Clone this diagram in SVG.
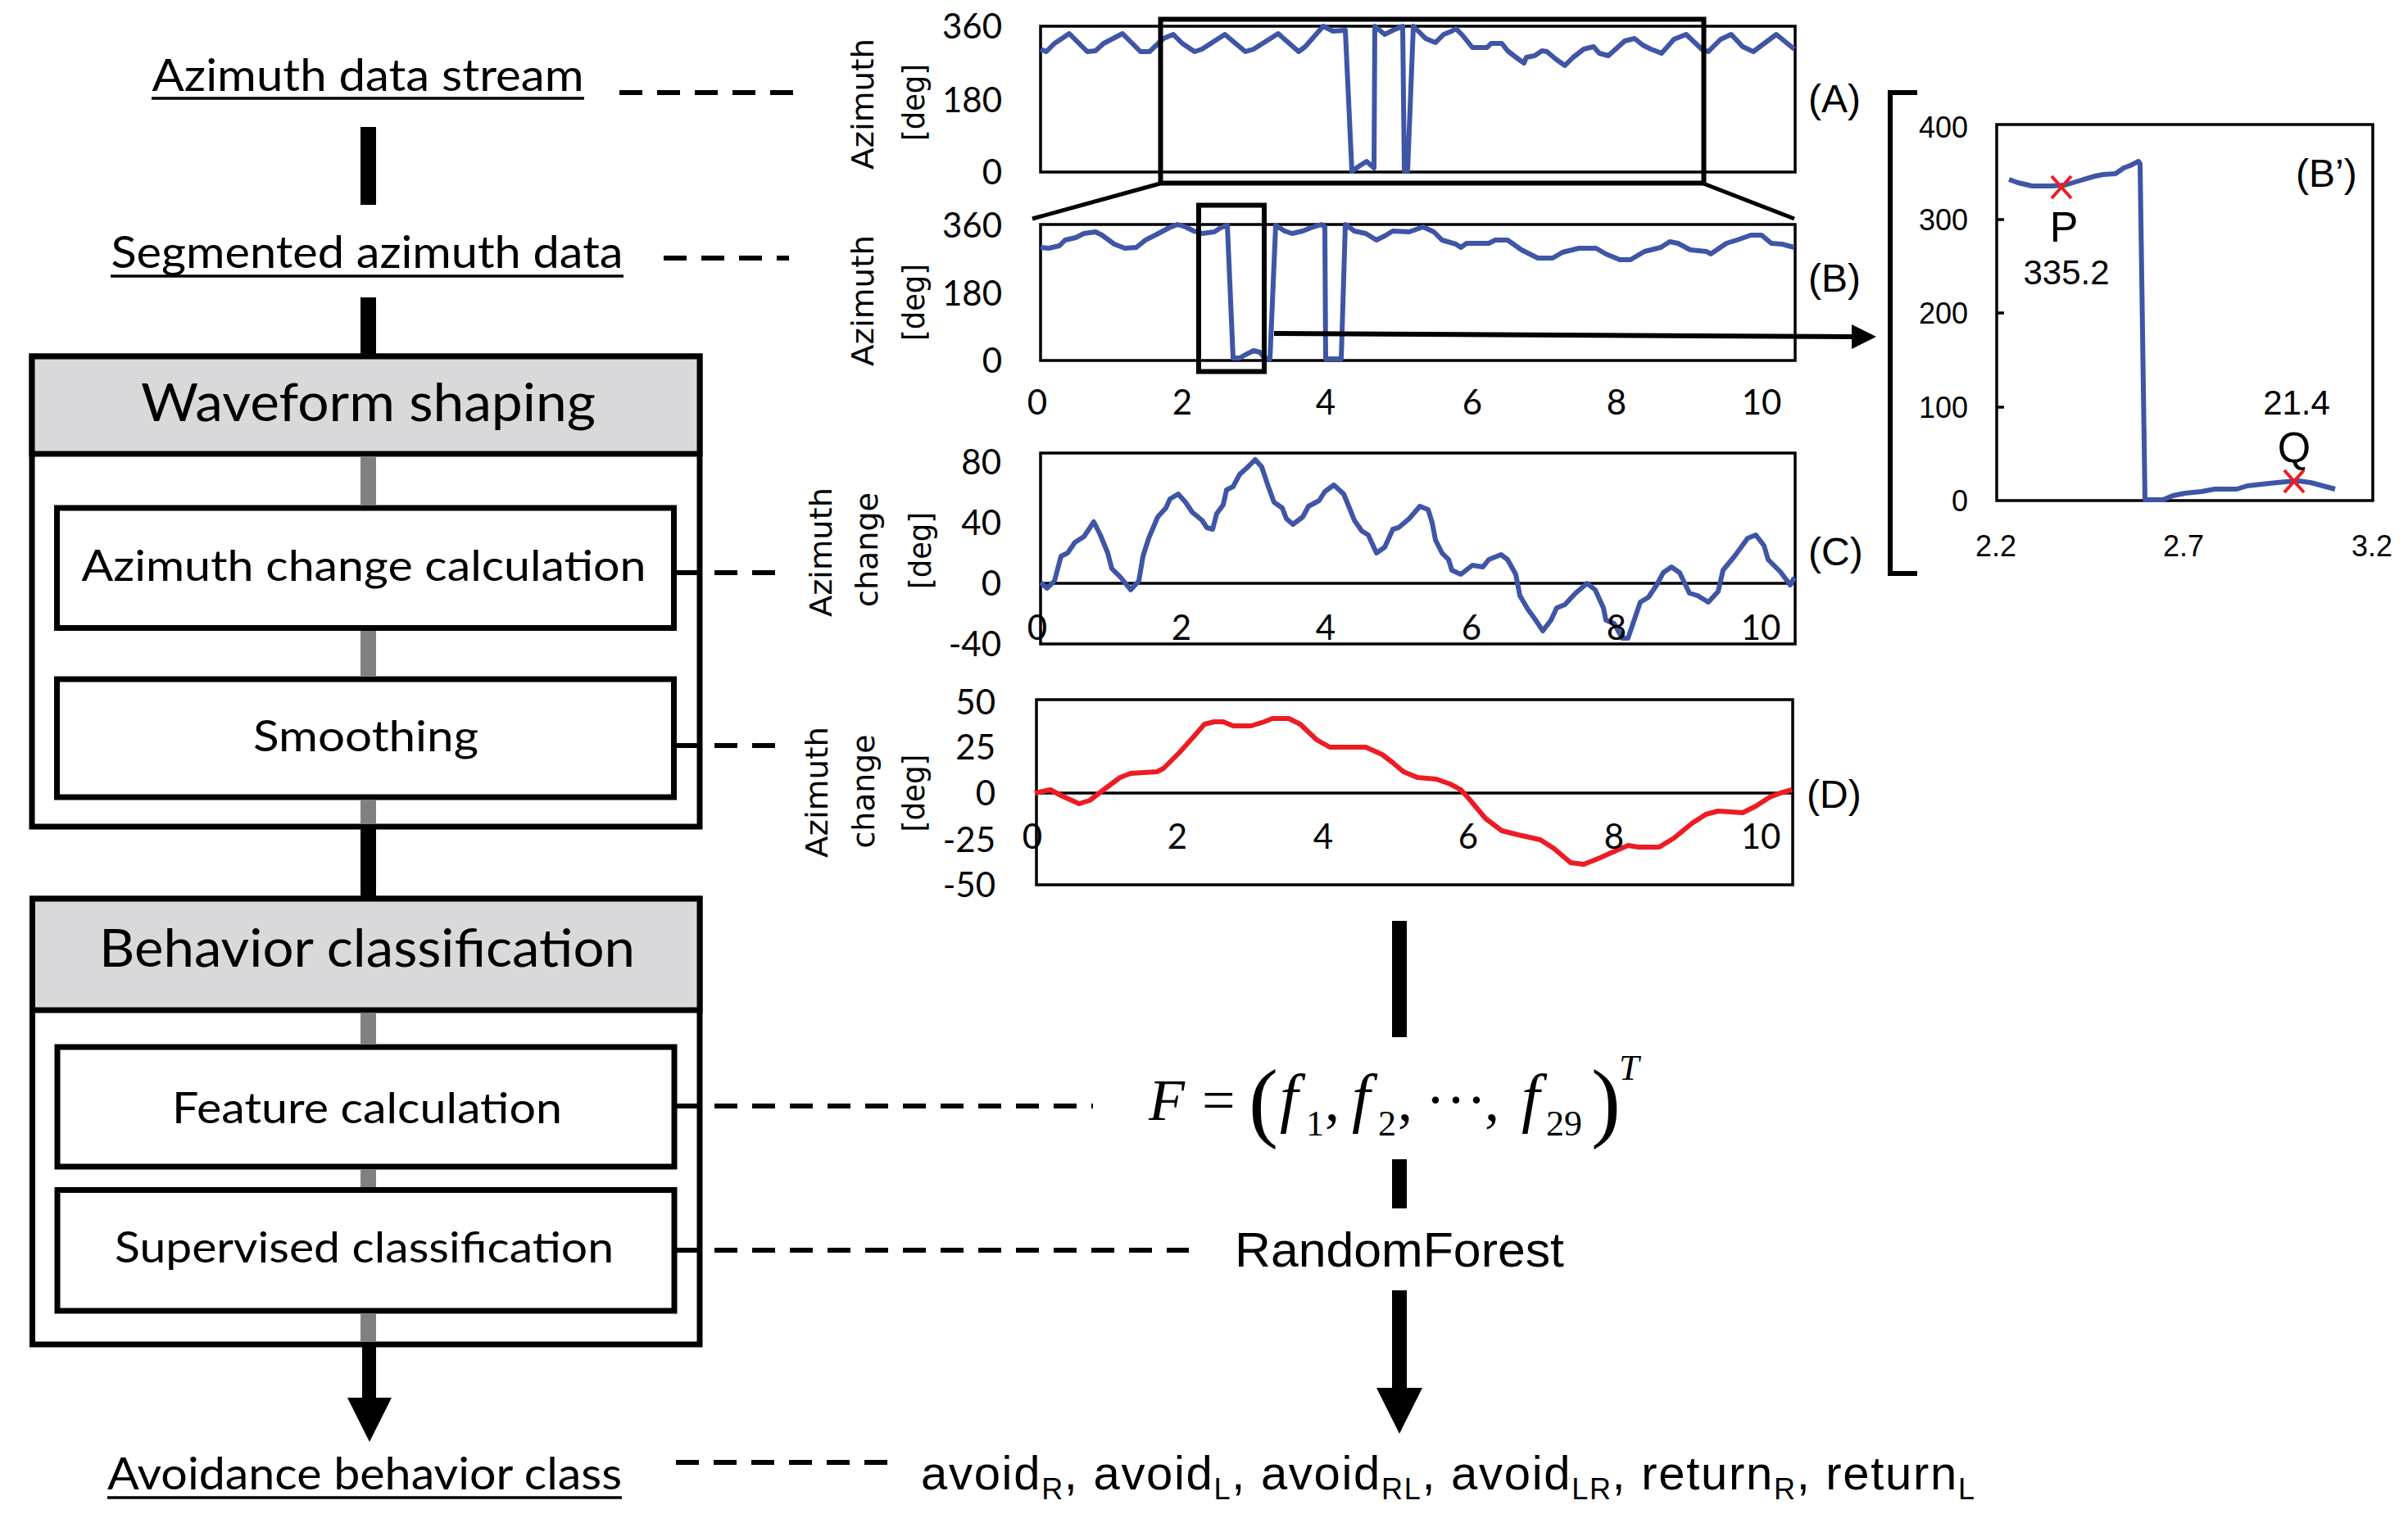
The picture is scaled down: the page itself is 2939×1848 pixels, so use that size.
<svg xmlns="http://www.w3.org/2000/svg" width="2939" height="1848" viewBox="0 0 2939 1848">
<style>
.t{font-family:Lato,'Open Sans','DejaVu Sans',sans-serif;fill:#000}
.ar{font-family:'Liberation Sans',Arial,sans-serif;fill:#000}
.tm{font-family:'Liberation Serif','Times New Roman',serif;fill:#000}
.box{fill:#fff;stroke:#000;stroke-width:7}
.hdr{fill:#d9d9db;stroke:#000;stroke-width:7}
.dash{stroke:#000;stroke-width:6;stroke-dasharray:28 18;fill:none}
.gray{fill:#808080}
.blk{fill:#000}
.frame{fill:none;stroke:#000;stroke-width:3.5}
.thick{fill:none;stroke:#000;stroke-width:6}
.blue{fill:none;stroke:#3f55a5;stroke-width:6;stroke-linejoin:round}
.red{fill:none;stroke:#ed1c24;stroke-width:6;stroke-linejoin:round}
.tick{font-family:Lato,'Open Sans',sans-serif;font-size:42px;fill:#000}
.rot{font-family:'DejaVu Sans',sans-serif;font-size:38px;fill:#000}
.lab{font-family:'Liberation Sans',Arial,sans-serif;font-size:48px;fill:#000}
.bp{font-family:'Liberation Sans',Arial,sans-serif;font-size:36px;fill:#000}
.ul{stroke:#000;stroke-width:3.5}
.xm{stroke:#ed1c24;stroke-width:4}
</style>

<!-- Left column nodes -->
<g id="n-stream">
<text class="t" x="449" y="111" font-size="54" text-anchor="middle" textLength="527" lengthAdjust="spacingAndGlyphs">Azimuth data stream</text>
<line class="ul" x1="185" y1="120" x2="713" y2="120"/>
</g>
<g id="n-segmented">
<text class="t" x="448" y="327" font-size="54" text-anchor="middle" textLength="625" lengthAdjust="spacingAndGlyphs">Segmented azimuth data</text>
<line class="ul" x1="135" y1="337" x2="761" y2="337"/>
</g>
<g id="n-waveform">
<rect class="box" x="39" y="435" width="815" height="574"/>
<rect class="hdr" x="39" y="435" width="815" height="119"/>
<text class="t" x="449.5" y="514" font-size="64" text-anchor="middle" textLength="555" lengthAdjust="spacingAndGlyphs">Waveform shaping</text>
</g>
<g id="n-azchange">
<rect class="box" x="69.5" y="620" width="753" height="146.5"/>
<text class="t" x="444" y="709" font-size="53" text-anchor="middle" textLength="689" lengthAdjust="spacingAndGlyphs">Azimuth change calculation</text>
</g>
<g id="n-smoothing">
<rect class="box" x="69.5" y="829" width="753" height="144"/>
<text class="t" x="446.5" y="917" font-size="53" text-anchor="middle" textLength="275" lengthAdjust="spacingAndGlyphs">Smoothing</text>
</g>
<g id="n-behavior">
<rect class="box" x="39.5" y="1097" width="814.5" height="544"/>
<rect class="hdr" x="39.5" y="1097" width="814.5" height="136"/>
<text class="t" x="448" y="1180" font-size="64" text-anchor="middle" textLength="654" lengthAdjust="spacingAndGlyphs">Behavior classification</text>
</g>
<g id="n-feature">
<rect class="box" x="70" y="1278" width="753" height="146"/>
<text class="t" x="448" y="1371" font-size="53" text-anchor="middle" textLength="476" lengthAdjust="spacingAndGlyphs">Feature calculation</text>
</g>
<g id="n-supervised">
<rect class="box" x="70" y="1452.5" width="753" height="147.5"/>
<text class="t" x="444.5" y="1541" font-size="53" text-anchor="middle" textLength="609" lengthAdjust="spacingAndGlyphs">Supervised classification</text>
</g>
<g id="n-class">
<text class="t" x="445" y="1818" font-size="54" text-anchor="middle" textLength="628" lengthAdjust="spacingAndGlyphs">Avoidance behavior class</text>
<line class="ul" x1="131" y1="1828" x2="759" y2="1828"/>
</g>

<!-- Chart A -->
<g id="chart-A">
<rect class="frame" x="1270" y="32" width="921" height="178"/>
<polyline class="blue" points="1270,60 1277,63 1287,53 1305,41 1327,63 1337,62 1347,53 1370,41 1392,63 1403,63 1420,47 1432,42 1443,53 1458,63 1467,60 1495,42 1508,53 1520,63 1530,60 1560,41 1585,63 1593,57 1615,32 1627,38 1642,37 1650,209 1660,202 1668,197 1677,205 1678,32 1690,42 1700,37 1712,32 1714,209 1718,209 1725,32 1740,47 1752,52 1762,42 1772,38 1777,35 1785,43 1797,58 1815,58 1820,53 1833,53 1840,62 1853,72 1860,77 1863,70 1873,68 1882,62 1888,63 1900,73 1910,80 1920,70 1933,60 1945,57 1952,65 1963,68 1983,50 1995,47 2005,55 2015,60 2028,65 2043,48 2058,42 2077,60 2085,63 2100,48 2113,42 2127,57 2140,63 2148,57 2168,42 2190,60"/>
<text class="tick" x="1223" y="47" text-anchor="end">360</text>
<text class="tick" x="1223" y="137" text-anchor="end">180</text>
<text class="tick" x="1223" y="225" text-anchor="end">0</text>
<text class="rot" transform="translate(1066,127) rotate(-90)" text-anchor="middle" textLength="160" lengthAdjust="spacingAndGlyphs">Azimuth</text>
<text class="rot" transform="translate(1128,125) rotate(-90)" text-anchor="middle" textLength="94" lengthAdjust="spacingAndGlyphs">[deg]</text>
<text class="lab" x="2207" y="137">(A)</text>
</g>

<!-- Chart B -->
<g id="chart-B">
<rect class="frame" x="1270" y="274" width="921" height="166"/>
<polyline class="blue" points="1270,302 1280,303 1293,300 1300,293 1313,290 1323,285 1337,283 1345,287 1360,298 1373,303 1387,302 1398,293 1410,287 1427,278 1437,274 1447,277 1457,282 1467,285 1482,283 1490,278 1498,275 1505,437 1513,437 1520,433 1530,428 1538,430 1543,437 1550,438 1557,275 1568,282 1577,285 1590,282 1600,278 1613,274 1617,277 1618,438 1637,438 1642,274 1653,282 1667,285 1680,293 1690,288 1700,282 1720,283 1737,277 1750,283 1760,293 1777,298 1783,302 1790,297 1817,297 1825,293 1840,293 1857,305 1877,315 1895,315 1907,308 1927,303 1948,303 1960,310 1977,317 1990,317 2007,307 2027,302 2038,295 2048,297 2063,305 2083,307 2088,310 2107,297 2120,293 2137,287 2150,287 2162,297 2175,298 2190,302"/>
<text class="tick" x="1223" y="290" text-anchor="end">360</text>
<text class="tick" x="1223" y="373" text-anchor="end">180</text>
<text class="tick" x="1223" y="455" text-anchor="end">0</text>
<text class="tick" x="1266" y="506" text-anchor="middle">0</text>
<text class="tick" x="1443" y="506" text-anchor="middle">2</text>
<text class="tick" x="1618" y="506" text-anchor="middle">4</text>
<text class="tick" x="1797" y="506" text-anchor="middle">6</text>
<text class="tick" x="1973" y="506" text-anchor="middle">8</text>
<text class="tick" x="2150" y="506" text-anchor="middle">10</text>
<text class="rot" transform="translate(1066,367) rotate(-90)" text-anchor="middle" textLength="160" lengthAdjust="spacingAndGlyphs">Azimuth</text>
<text class="rot" transform="translate(1128,369) rotate(-90)" text-anchor="middle" textLength="94" lengthAdjust="spacingAndGlyphs">[deg]</text>
<text class="lab" x="2207" y="356">(B)</text>
</g>

<!-- Zoom indicators -->
<g id="zoom-marks">
<rect class="thick" x="1416.5" y="23.5" width="663" height="200"/>
<line x1="1416" y1="224" x2="1260" y2="267" stroke="#000" stroke-width="5"/>
<line x1="2079" y1="224" x2="2190" y2="267" stroke="#000" stroke-width="5"/>
<rect class="thick" x="1463" y="250.5" width="80" height="203"/>
</g>

<!-- Chart C -->
<g id="chart-C">
<rect class="frame" x="1270" y="553" width="921" height="233"/>
<line x1="1270" y1="712" x2="2191" y2="712" stroke="#000" stroke-width="3.5"/>
<polyline class="blue" points="1270,711 1278,718 1287,709 1295,679 1303,675 1312,662 1323,655 1335,637 1343,653 1352,675 1357,694 1368,705 1380,720 1390,709 1395,679 1402,657 1413,631 1423,620 1428,609 1438,603 1447,613 1455,625 1467,635 1473,644 1480,646 1485,627 1493,616 1497,598 1505,594 1513,579 1523,570 1532,561 1540,570 1548,594 1555,613 1565,620 1570,633 1578,640 1590,631 1597,618 1610,611 1617,600 1628,592 1640,603 1647,620 1653,635 1662,648 1670,653 1680,675 1690,668 1700,646 1707,644 1720,633 1733,618 1743,622 1748,638 1752,659 1760,675 1768,683 1772,696 1783,701 1797,690 1810,692 1817,683 1832,677 1840,683 1850,701 1855,727 1865,744 1873,755 1883,770 1893,757 1900,742 1910,738 1923,724 1937,712 1947,720 1957,742 1960,757 1970,761 1980,779 1987,779 2002,735 2012,729 2022,714 2030,699 2040,692 2050,699 2062,724 2072,727 2085,735 2097,722 2103,696 2117,679 2133,657 2143,653 2153,666 2158,683 2173,698 2185,714 2190,705"/>
<text class="tick" x="1222" y="579" text-anchor="end">80</text>
<text class="tick" x="1222" y="653" text-anchor="end">40</text>
<text class="tick" x="1222" y="727" text-anchor="end">0</text>
<text class="tick" x="1222" y="801" text-anchor="end">-40</text>
<text class="tick" x="1266" y="781" text-anchor="middle">0</text>
<text class="tick" x="1442" y="781" text-anchor="middle">2</text>
<text class="tick" x="1618" y="781" text-anchor="middle">4</text>
<text class="tick" x="1796" y="781" text-anchor="middle">6</text>
<text class="tick" x="1973" y="781" text-anchor="middle">8</text>
<text class="tick" x="2149" y="781" text-anchor="middle">10</text>
<text class="rot" transform="translate(1015,674) rotate(-90)" text-anchor="middle" textLength="158" lengthAdjust="spacingAndGlyphs">Azimuth</text>
<text class="rot" transform="translate(1071,671) rotate(-90)" text-anchor="middle" textLength="140" lengthAdjust="spacingAndGlyphs">change</text>
<text class="rot" transform="translate(1136,672) rotate(-90)" text-anchor="middle" textLength="94" lengthAdjust="spacingAndGlyphs">[deg]</text>
<text class="lab" x="2207" y="690">(C)</text>
</g>

<!-- Chart D -->
<g id="chart-D">
<rect class="frame" x="1265" y="854" width="923" height="226"/>
<line x1="1265" y1="968" x2="2188" y2="968" stroke="#000" stroke-width="3.5"/>
<polyline class="red" points="1263,968 1282,964 1295,971 1317,981 1330,977 1347,964 1367,949 1380,944 1412,942 1420,938 1440,918 1457,899 1470,884 1482,881 1493,881 1505,886 1527,886 1543,881 1553,877 1573,877 1587,884 1607,903 1623,912 1667,912 1687,921 1700,931 1713,942 1730,949 1753,951 1770,957 1783,964 1793,975 1813,999 1833,1014 1853,1019 1880,1025 1897,1036 1917,1053 1933,1055 1953,1047 1973,1038 1987,1032 2000,1034 2025,1034 2043,1023 2065,1005 2082,994 2097,990 2127,992 2143,984 2160,973 2173,968 2187,964"/>
<text class="tick" x="1215" y="872" text-anchor="end">50</text>
<text class="tick" x="1215" y="927" text-anchor="end">25</text>
<text class="tick" x="1215" y="983" text-anchor="end">0</text>
<text class="tick" x="1215" y="1040" text-anchor="end">-25</text>
<text class="tick" x="1215" y="1095" text-anchor="end">-50</text>
<text class="tick" x="1260" y="1036" text-anchor="middle">0</text>
<text class="tick" x="1437" y="1036" text-anchor="middle">2</text>
<text class="tick" x="1615" y="1036" text-anchor="middle">4</text>
<text class="tick" x="1792" y="1036" text-anchor="middle">6</text>
<text class="tick" x="1970" y="1036" text-anchor="middle">8</text>
<text class="tick" x="2149" y="1036" text-anchor="middle">10</text>
<text class="rot" transform="translate(1010,967) rotate(-90)" text-anchor="middle" textLength="160" lengthAdjust="spacingAndGlyphs">Azimuth</text>
<text class="rot" transform="translate(1067,966) rotate(-90)" text-anchor="middle" textLength="139" lengthAdjust="spacingAndGlyphs">change</text>
<text class="rot" transform="translate(1128,968) rotate(-90)" text-anchor="middle" textLength="95" lengthAdjust="spacingAndGlyphs">[deg]</text>
<text class="lab" x="2205" y="986">(D)</text>
</g>

<!-- Chart B' -->
<g id="chart-Bp">
<path d="M2340,113 H2307 V700 H2340" fill="none" stroke="#000" stroke-width="6"/>
<rect class="frame" x="2437" y="152" width="459" height="459"/>
<path d="M2437,268 H2446 M2437,382 H2446 M2437,497 H2446" stroke="#000" stroke-width="3.5"/>
<polyline class="blue" points="2452,219 2463,223 2480,227 2503,227 2520,226 2540,220 2557,215 2567,213 2582,212 2592,205 2600,202 2610,197 2612,200 2618,610 2640,610 2652,605 2667,602 2687,600 2703,597 2730,597 2743,593 2770,590 2790,588 2805,587 2820,589 2835,593 2850,597"/>
<path class="xm" d="M2504,215 L2528,242 M2528,215 L2504,242"/>
<path class="xm" d="M2788,574 L2812,601 M2812,574 L2788,601"/>
<text class="bp" x="2402" y="168" text-anchor="end">400</text>
<text class="bp" x="2402" y="281" text-anchor="end">300</text>
<text class="bp" x="2402" y="395" text-anchor="end">200</text>
<text class="bp" x="2402" y="510" text-anchor="end">100</text>
<text class="bp" x="2402" y="624" text-anchor="end">0</text>
<text class="bp" x="2436" y="679" text-anchor="middle">2.2</text>
<text class="bp" x="2665" y="679" text-anchor="middle">2.7</text>
<text class="bp" x="2895" y="679" text-anchor="middle">3.2</text>
<text class="ar" x="2519" y="295" font-size="52" text-anchor="middle">P</text>
<text class="ar" x="2522" y="347" font-size="42" text-anchor="middle">335.2</text>
<text class="ar" x="2803" y="506" font-size="42" text-anchor="middle">21.4</text>
<text class="ar" x="2800" y="564" font-size="52" text-anchor="middle">Q</text>
<text class="lab" x="2802" y="228">(B&#8217;)</text>
</g>

<!-- Centre column -->
<g id="n-formula">
<text class="tm" x="1402" y="1367" font-size="72" font-style="italic">F</text>
<text class="tm" x="1467" y="1367" font-size="72">=</text>
<text class="tm" x="1524" y="1380" font-size="108">(</text>
<text class="tm" x="1562" y="1367" font-size="80" font-style="italic">f</text>
<text class="tm" x="1594" y="1386" font-size="44">1</text>
<text class="tm" x="1617" y="1367" font-size="72">,</text>
<text class="tm" x="1650" y="1367" font-size="80" font-style="italic">f</text>
<text class="tm" x="1682" y="1386" font-size="44">2</text>
<text class="tm" x="1706" y="1367" font-size="72">,</text>
<text class="tm" x="1740 1765 1790" y="1367" font-size="72">···</text>
<text class="tm" x="1812" y="1367" font-size="72">,</text>
<text class="tm" x="1857" y="1367" font-size="80" font-style="italic">f</text>
<text class="tm" x="1887" y="1386" font-size="44">29</text>
<text class="tm" x="1942" y="1380" font-size="108">)</text>
<text class="tm" x="1976" y="1318" font-size="44" font-style="italic">T</text>
</g>
<g id="n-rf">
<text class="ar" x="1507" y="1546" font-size="60" textLength="402" lengthAdjust="spacingAndGlyphs">RandomForest</text>
</g>
<g id="n-classes">
<text class="ar" x="1124" y="1818" font-size="58" textLength="1286" lengthAdjust="spacing">avoid<tspan font-size="36" dy="12">R</tspan><tspan dy="-12">, avoid</tspan><tspan font-size="36" dy="12">L</tspan><tspan dy="-12">, avoid</tspan><tspan font-size="36" dy="12">RL</tspan><tspan dy="-12">, avoid</tspan><tspan font-size="36" dy="12">LR</tspan><tspan dy="-12">, return</tspan><tspan font-size="36" dy="12">R</tspan><tspan dy="-12">, return</tspan><tspan font-size="36" dy="12">L</tspan></text>
</g>

<!-- Connectors -->
<g id="connectors">
<rect class="blk" x="440" y="155" width="19" height="95"/>
<rect class="blk" x="440" y="363" width="19" height="72"/>
<rect class="gray" x="440" y="557" width="19" height="60"/>
<rect class="gray" x="440" y="770" width="19" height="56"/>
<rect class="gray" x="440" y="977" width="19" height="29"/>
<rect class="blk" x="440" y="1012" width="19" height="82"/>
<rect class="gray" x="440" y="1236" width="19" height="39"/>
<rect class="gray" x="440" y="1428" width="19" height="21"/>
<rect class="gray" x="440" y="1604" width="19" height="34"/>
<rect class="blk" x="442" y="1644" width="17" height="64"/>
<polygon class="blk" points="424,1706 478,1706 451,1760"/>
<line class="dash" x1="756" y1="113" x2="979" y2="113"/>
<line class="dash" x1="810" y1="315" x2="963" y2="315"/>
<line class="dash" x1="826" y1="699" x2="963" y2="699"/>
<line class="dash" x1="826" y1="910" x2="963" y2="910"/>
<line class="dash" x1="826" y1="1350" x2="1334" y2="1350"/>
<line class="dash" x1="826" y1="1526" x2="1451" y2="1526"/>
<line class="dash" x1="825" y1="1785" x2="1099" y2="1785"/>
<line x1="1555" y1="407" x2="2262" y2="411" stroke="#000" stroke-width="6"/>
<polygon class="blk" points="2290,411 2260,396 2260,426"/>
<rect class="blk" x="1699" y="1124" width="18" height="142"/>
<rect class="blk" x="1699" y="1415" width="18" height="60"/>
<rect class="blk" x="1699" y="1575" width="18" height="121"/>
<polygon class="blk" points="1680,1694 1736,1694 1708,1750"/>
</g>
</svg>
